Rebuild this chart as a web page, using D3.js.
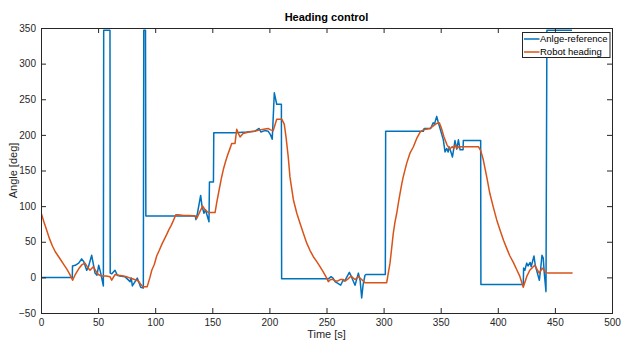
<!DOCTYPE html>
<html>
<head>
<meta charset="utf-8">
<script src="https://cdn.jsdelivr.net/npm/d3@7"></script>
<style>
  body { margin: 0; background: #fff; }
  svg { font-family: "Liberation Sans", Arial, sans-serif; }
</style>
</head>
<body>
<svg id="chart" width="622" height="340"></svg>
<script>
// reference angle (blue)
var refTime = [0, 27.4, 27.6, 30, 33, 35.6, 37.5, 40, 41.2, 44.4, 47.3, 49, 50.5, 52, 54.6, 54.9, 60.4, 60.6, 62, 64.8, 66.8, 69, 73.5, 78, 79, 80, 84.3, 87.3, 89.6, 90, 91.5, 91.8,
  135, 135.7, 137, 139.8, 141, 142.7, 144, 147.1, 147.5, 151, 151.3, 170, 180, 187, 189, 191, 192.5, 196, 199, 201, 202.5, 204.3, 206.4, 210.5, 210.7,
  251.6, 254, 255.7, 257.5, 262.4, 264.5, 266, 270, 271.5, 275, 277.9, 279.5, 280.8, 282, 283.7, 284.5, 301.5, 301.8,
  334.8, 335.5, 341.2, 343.4, 344.5, 346.5, 347.8, 352.3, 353.8, 355.3, 356.5, 357.6, 360.3, 362.5, 364, 365.5, 367, 369.6, 369.8, 385, 385.2,
  422.3, 422.6, 423.7, 425.3, 426.5, 428.3, 429.2, 431.7, 432.8, 435.5, 436.4, 437.4, 438.7, 439.8, 440.7, 442.2, 443, 465];
var refAngle = [0, 0, 16, 17, 20, 26, 22, 10, 13, 31, 6, 3, 17, 8, -12, 347, 347, 6, 5, 10, 3, 2, 1, -6, -1, -12, -1, -14, -15, 347, 347, 86,
  86, 81, 90, 115, 100, 90, 95, 78, 134, 134, 203, 203, 204, 205, 207, 209, 204, 206, 205, 200, 194, 259, 243, 243, -2,
  -2, 1, -1, -6, -11, -4, -5, 7, 2, -11, 6, -5, -29, -11, 3, 4, 4, 205,
  205, 209, 209, 217, 215, 226, 218, 193, 176, 181, 176, 183, 169, 192, 180, 193, 179, 179, 192, 192, -10,
  -10, 13, 10, 20, 16, 21, 15, 30, 17, 1, -4, 10, 31, 27, 6, -20, 347, 347];

// robot heading (orange)
var headTime = [0, 2.5, 5, 7.5, 10, 12.5, 15, 17.5, 20, 22.5, 25, 27.7, 30, 33, 36, 38.5, 40.5, 42.9, 45.8, 48, 50.2, 53, 57, 60.4, 61.9, 64.8, 68, 72, 75, 78, 82, 85.2, 87, 89, 93,
  95.4, 97, 99.2, 101.3, 103.6, 106, 110, 112, 114, 116, 118, 120, 125, 130, 135, 136.5, 139, 141.6, 143.5, 146.5, 152.4,
  154, 156, 157.8, 159.6, 161.5, 163.5, 165.3, 167, 169.9, 171.4, 172.8, 174.3, 177, 182, 187, 191.8, 195, 198.8, 201, 203.4, 206.4, 210.8,
  213, 214.5, 216.5, 218, 219.5, 221, 224, 226.8, 229.5, 232.7, 235.5, 238.5, 241.5, 244.3, 247, 250.2, 251.6, 253.5, 255.7, 258, 260, 262, 264.4, 266.5, 269, 271.5, 273.5, 275, 276.5, 278, 280, 283.7, 302.7,
  304, 305.6, 307, 308.5, 310, 311.5, 313, 314.4, 316, 317.2, 320.2, 323, 326, 329, 332, 334.8, 337, 340.6, 343, 346.5, 348.8, 350.5, 352.9, 355.5, 358.1, 360, 361.5, 363, 364.3, 366, 383,
  385, 387.3, 390.3, 393, 396, 399, 402, 405, 408, 410.6, 413.6, 416.5, 419.4, 422.3, 425.3, 428, 431, 432.5, 434.5, 436.3, 437.5, 438.9, 440.5, 442, 444, 465.5];
var headAngle = [91, 78, 66, 54, 44, 36, 30, 24, 18, 12, 5, -4, 4, 12, 18, 20, 15, 10, 15, 9, 4, 2, 2, 1, -4, 4, 3, 2, 1, -1, -3, -5, -9, -13, -13,
  0, 10, 18, 30, 38, 47, 60, 67, 73, 80, 88, 88, 87, 87, 86, 83, 92, 100, 95, 91, 91,
  106, 123, 138, 151, 162, 172, 180, 188, 188, 208, 202, 197, 202, 204, 205, 207, 208, 209, 207, 206, 222, 222,
  215, 198, 169, 141, 125, 109, 90, 76, 63, 48, 38, 29, 22, 15, 8, -1, -6, -3, -3, -5, -5, -3, -3, -5, -2, 2, -1, -3, -1, 1, -2, -7.4, -7.4,
  5, 20, 40, 62, 78, 90, 105, 118, 132, 141, 160, 174, 183, 195, 204, 207, 208, 209, 212, 216, 217, 210, 197, 186, 180, 183.5, 181, 186, 181, 183.5, 183.5,
  178, 165, 141, 118, 99, 81, 66, 52, 40, 30, 21, 11, 1, -14, 1, 10, 15, 17, 11, 6, 9, 13, 10, 7, 6, 6];

var xTicks = d3.range(0, 501, 50);
var yTicks = d3.range(-50, 351, 50);
var seriesNames = ["Anlge-reference", "Robot heading"];
var seriesColors = ["#0072BD", "#D95319"];

var svg = d3.select("#chart"),
  margin = { top: 28, right: 10, bottom: 27, left: 41 },
  width = +svg.attr("width") - margin.left - margin.right,
  height = +svg.attr("height") - margin.top - margin.bottom;

var x = d3.scaleLinear().domain([0, 500]).range([0, width]);
var y = d3.scaleLinear().domain([-50, 350]).range([height, 0]);

var g = svg.append("g").attr("transform", "translate(" + margin.left + "," + margin.top + ")");

g.append("clipPath").attr("id", "clip")
  .append("rect").attr("width", width).attr("height", height);

var line = d3.line()
  .x(function(d) { return x(d[0]); })
  .y(function(d) { return y(d[1]); });

var series = [
  d3.zip(refTime, refAngle),
  d3.zip(headTime, headAngle)
];

g.append("g").attr("clip-path", "url(#clip)")
  .selectAll("path")
  .data(series)
  .enter().append("path")
    .attr("d", line)
    .attr("fill", "none")
    .attr("stroke", function(d, i) { return seriesColors[i]; })
    .attr("stroke-width", 1.5)
    .attr("stroke-linejoin", "round");

// axes, matlab style: ticks inward, box all round
var tl = 5;
function styleAxis(sel) {
  sel.select(".domain").remove();
  sel.selectAll("line").attr("stroke", "#262626");
  sel.selectAll("text").attr("fill", "#262626").attr("font-size", "10px");
}

g.append("g")
  .attr("transform", "translate(0," + height + ")")
  .call(d3.axisBottom(x).tickValues(xTicks).tickSizeInner(-tl).tickSizeOuter(0).tickPadding(6))
  .call(styleAxis);
g.append("g")
  .call(d3.axisTop(x).tickValues(xTicks).tickSizeInner(-tl).tickSizeOuter(0).tickFormat(""))
  .call(styleAxis);
g.append("g")
  .call(d3.axisLeft(y).tickValues(yTicks).tickSizeInner(-tl).tickSizeOuter(0).tickPadding(5))
  .call(styleAxis);
g.append("g")
  .attr("transform", "translate(" + width + ",0)")
  .call(d3.axisRight(y).tickValues(yTicks).tickSizeInner(-tl).tickSizeOuter(0).tickFormat(""))
  .call(styleAxis);

g.append("rect")
  .attr("width", width).attr("height", height)
  .attr("fill", "none").attr("stroke", "#262626").attr("stroke-width", 1)
  .attr("shape-rendering", "crispEdges");

svg.append("text")
  .attr("x", margin.left + width / 2).attr("y", 21)
  .attr("text-anchor", "middle")
  .attr("font-size", "11px").attr("font-weight", "bold").attr("fill", "#000")
  .text("Heading control");

svg.append("text")
  .attr("x", margin.left + width / 2).attr("y", 338)
  .attr("text-anchor", "middle")
  .attr("font-size", "11px").attr("fill", "#262626")
  .text("Time [s]");

svg.append("text")
  .attr("transform", "translate(17," + (margin.top + height / 2) + ") rotate(-90)")
  .attr("text-anchor", "middle")
  .attr("font-size", "11px").attr("fill", "#262626")
  .text("Angle [deg]");

// legend
var lg = svg.append("g").attr("transform", "translate(522.5,32.5)");
lg.append("rect")
  .attr("width", 87.5).attr("height", 25)
  .attr("fill", "#fff").attr("stroke", "#262626").attr("stroke-width", 1);
var item = lg.selectAll("g.item")
  .data(seriesNames)
  .enter().append("g")
    .attr("class", "item")
    .attr("transform", function(d, i) { return "translate(0," + (6.5 + i * 13) + ")"; });
item.append("line")
  .attr("x1", 1.5).attr("x2", 17)
  .attr("stroke", function(d, i) { return seriesColors[i]; })
  .attr("stroke-width", 1.5);
item.append("text")
  .attr("x", 17.5).attr("y", 3.3)
  .attr("font-size", "9.5px").attr("fill", "#000")
  .text(function(d) { return d; });
</script>
</body>
</html>
